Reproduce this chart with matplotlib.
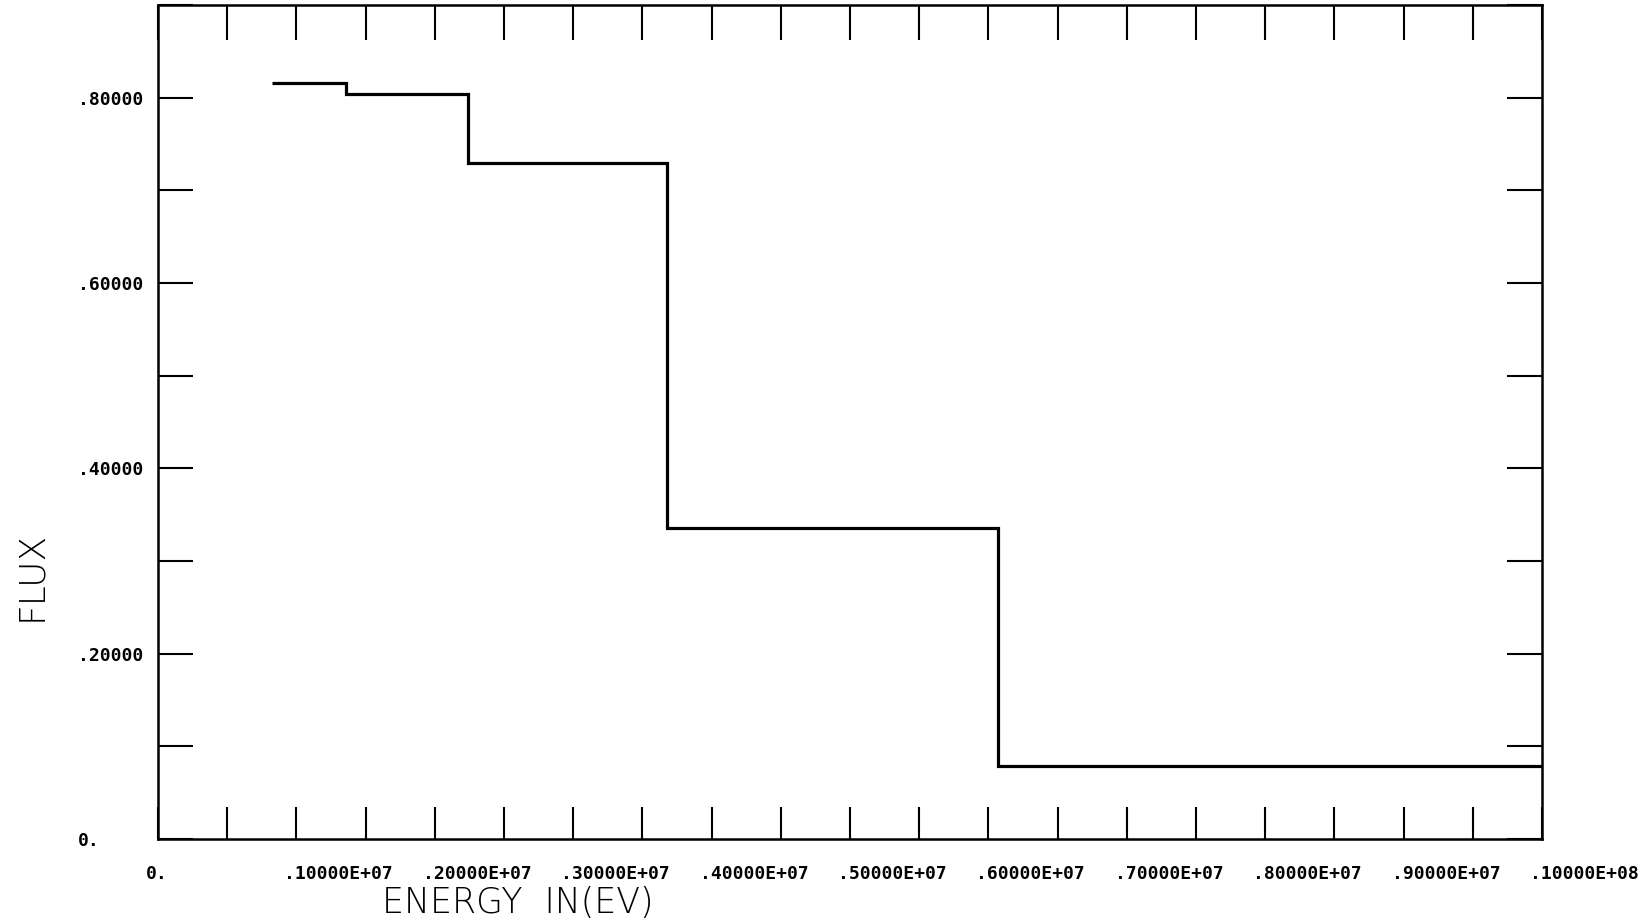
import matplotlib
matplotlib.use("Agg")
import matplotlib.pyplot as plt
import matplotlib.transforms as mtransforms
import numpy as np

# group boundaries (eV) and group flux
energy_edges = [0.82e6, 1.36e6, 2.24e6, 3.68e6, 6.07e6, 1.0e7]
flux = [0.816, 0.804, 0.730, 0.336, 0.0788]

x_ticks = np.arange(0, 1.0e7 + 1, 5.0e5)
x_labels = ["0.", ".10000E+07", ".20000E+07", ".30000E+07", ".40000E+07", ".50000E+07",
            ".60000E+07", ".70000E+07", ".80000E+07", ".90000E+07", ".10000E+08"]
y_ticks = np.arange(0, 0.91, 0.1)
y_labels = ["0.", ".20000", ".40000", ".60000", ".80000"]

fig = plt.figure(figsize=(16.5, 9.21), dpi=100)
ax = fig.add_axes([0.0958, 0.089, 0.8388, 0.9056])

ax.stairs(flux, energy_edges, baseline=None, color="black", linewidth=2.3)

ax.set_xlim(0, 1.0e7)
ax.set_ylim(0, 0.9)

# label every other tick
xl = [x_labels[i // 2] if i % 2 == 0 else "" for i in range(len(x_ticks))]
yl = [y_labels[i // 2] if i % 2 == 0 else "" for i in range(len(y_ticks))]

mono = dict(family="DejaVu Sans Mono", size=13, weight="bold")
ax.set_xticks(x_ticks, labels=xl, **mono)
ax.set_yticks(y_ticks, labels=yl, **mono)

ax.tick_params(axis="both", direction="in", width=1.5, color="black")
ax.tick_params(axis="x", length=23, top=True, pad=19)
ax.tick_params(axis="y", length=25, right=True, pad=58)
for t in ax.xaxis.get_major_ticks():
    t.tick2line.set_markersize(25)

shift = mtransforms.ScaledTranslation(-12 / 100, 0, fig.dpi_scale_trans)
for lab in ax.get_xticklabels():
    lab.set_horizontalalignment("left")
    lab.set_transform(lab.get_transform() + shift)
for lab in ax.get_yticklabels():
    lab.set_horizontalalignment("left")

for sp in ax.spines.values():
    sp.set_linewidth(1.8)
    sp.set_color("black")

fig.text(518 / 1650, 1 - 903 / 921, "ENERGY  IN(EV)", ha="center", va="center",
         family="DejaVu Sans", size=25, weight="light")
fig.text(31 / 1650, 1 - 576 / 921, "FLUX", ha="center", va="center", rotation=90,
         family="DejaVu Sans", size=26, weight="light")

fig.savefig("out.png", dpi=100, facecolor="white")
